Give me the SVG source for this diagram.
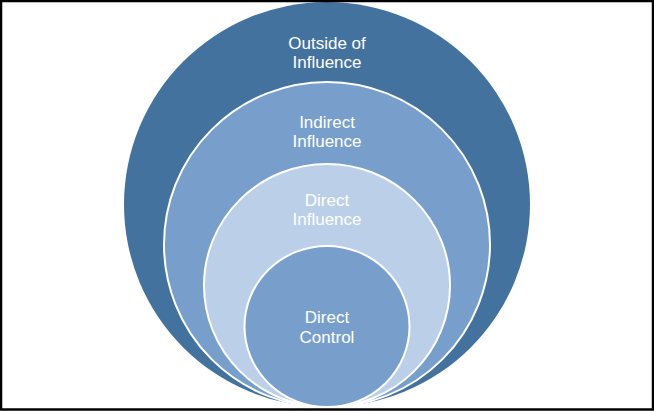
<svg xmlns="http://www.w3.org/2000/svg" width="654" height="411" viewBox="0 0 654 411">
  <style>
    .ring { stroke: #ffffff; stroke-width: 2; }
    .lbl { font-family: "Liberation Sans", Arial, sans-serif; font-size: 17px; fill: #ffffff; text-anchor: middle; }
  </style>
  <rect x="0" y="0" width="654" height="411" fill="#ffffff"/>
  <g id="outside-of-influence">
    <ellipse cx="327" cy="204.5" rx="203" ry="202.5" fill="#44729f"/>
    <text class="lbl" x="327" y="49">Outside of</text>
    <text class="lbl" x="327" y="68">Influence</text>
  </g>
  <g id="indirect-influence">
    <ellipse class="ring" cx="327" cy="244.5" rx="163" ry="162.5" fill="#789fcb"/>
    <text class="lbl" x="327" y="128">Indirect</text>
    <text class="lbl" x="327" y="147">Influence</text>
  </g>
  <g id="direct-influence">
    <ellipse class="ring" cx="327" cy="285.5" rx="123" ry="121.5" fill="#bbcfe8"/>
    <text class="lbl" x="327" y="206">Direct</text>
    <text class="lbl" x="327" y="225">Influence</text>
  </g>
  <g id="direct-control">
    <ellipse class="ring" cx="327" cy="326.5" rx="82.5" ry="80.5" fill="#789fcb"/>
    <text class="lbl" x="327" y="323">Direct</text>
    <text class="lbl" x="327" y="343">Control</text>
  </g>
  <g id="connectors"/>
  <rect x="1" y="1" width="652" height="408.5" fill="none" stroke="#000000" stroke-width="2.5"/>
</svg>
